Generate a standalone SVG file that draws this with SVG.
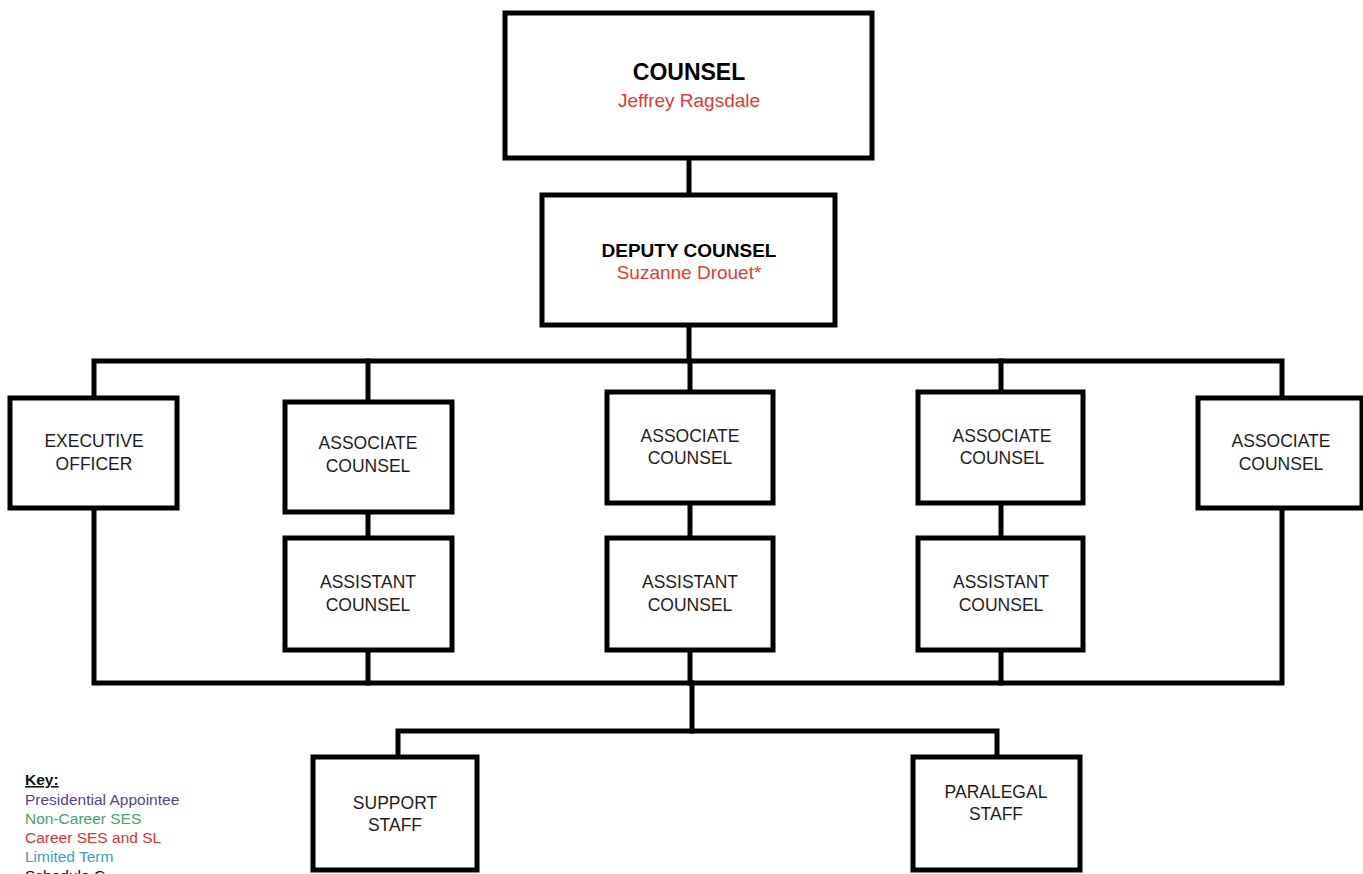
<svg xmlns="http://www.w3.org/2000/svg" width="1363" height="874" viewBox="0 0 1363 874">
  <style>
    .box { fill: #ffffff; stroke: #000000; stroke-width: 5; }
    .wire { fill: none; stroke: #000000; stroke-width: 5; stroke-linejoin: miter; stroke-linecap: square; }
    .lbl { font-family: "Liberation Sans", Arial, sans-serif; font-size: 17.5px; fill: #1e1e1e; text-anchor: middle; }
    .head { font-family: "Liberation Sans", Arial, sans-serif; font-weight: bold; fill: #000000; text-anchor: middle; }
    .name { font-family: "Liberation Sans", Arial, sans-serif; fill: #e23a35; text-anchor: middle; }
    .key { font-family: "Liberation Sans", Arial, sans-serif; font-size: 15.5px; }
  </style>
  <rect width="1363" height="874" fill="#ffffff"/>

  <!-- connectors -->
  <g id="connectors" class="wire">
    <line x1="689" y1="158" x2="689" y2="195"/>
    <line x1="689" y1="325" x2="689" y2="361"/>
    <polyline points="94,398 94,361 1282,361 1282,398"/>
    <line x1="368" y1="361" x2="368" y2="402"/>
    <line x1="690" y1="361" x2="690" y2="392"/>
    <line x1="1001" y1="361" x2="1001" y2="392"/>
    <line x1="368" y1="512" x2="368" y2="538"/>
    <line x1="690" y1="503" x2="690" y2="538"/>
    <line x1="1001" y1="503" x2="1001" y2="538"/>
    <polyline points="94,508 94,683 1282,683 1282,508"/>
    <line x1="368" y1="650" x2="368" y2="683"/>
    <line x1="690" y1="650" x2="690" y2="683"/>
    <line x1="1001" y1="650" x2="1001" y2="683"/>
    <line x1="692" y1="683" x2="692" y2="731"/>
    <polyline points="398,757 398,731 997,731 997,757"/>
  </g>

  <g id="counsel">
    <rect class="box" x="505" y="13" width="367" height="145"/>
    <text class="head" x="689" y="80" font-size="23px">COUNSEL</text>
    <text class="name" x="689" y="107" font-size="19px">Jeffrey Ragsdale</text>
  </g>

  <g id="deputy-counsel">
    <rect class="box" x="542" y="195" width="293" height="130"/>
    <text class="head" x="689" y="257" font-size="19px">DEPUTY COUNSEL</text>
    <text class="name" x="689" y="279" font-size="19px">Suzanne Drouet*</text>
  </g>

  <g id="executive-officer">
    <rect class="box" x="10" y="398" width="167" height="110"/>
    <text class="lbl" x="94" y="447">EXECUTIVE</text>
    <text class="lbl" x="94" y="470">OFFICER</text>
  </g>

  <g id="associate-counsel-1">
    <rect class="box" x="285" y="402" width="167" height="110"/>
    <text class="lbl" x="368" y="449">ASSOCIATE</text>
    <text class="lbl" x="368" y="472">COUNSEL</text>
  </g>

  <g id="associate-counsel-2">
    <rect class="box" x="607" y="392" width="166" height="111"/>
    <text class="lbl" x="690" y="442">ASSOCIATE</text>
    <text class="lbl" x="690" y="464">COUNSEL</text>
  </g>

  <g id="associate-counsel-3">
    <rect class="box" x="918" y="392" width="165" height="111"/>
    <text class="lbl" x="1002" y="442">ASSOCIATE</text>
    <text class="lbl" x="1002" y="464">COUNSEL</text>
  </g>

  <g id="associate-counsel-4">
    <rect class="box" x="1198" y="398" width="164" height="110"/>
    <text class="lbl" x="1281" y="447">ASSOCIATE</text>
    <text class="lbl" x="1281" y="470">COUNSEL</text>
  </g>

  <g id="assistant-counsel-1">
    <rect class="box" x="285" y="538" width="167" height="112"/>
    <text class="lbl" x="368" y="588">ASSISTANT</text>
    <text class="lbl" x="368" y="611">COUNSEL</text>
  </g>

  <g id="assistant-counsel-2">
    <rect class="box" x="607" y="538" width="166" height="112"/>
    <text class="lbl" x="690" y="588">ASSISTANT</text>
    <text class="lbl" x="690" y="611">COUNSEL</text>
  </g>

  <g id="assistant-counsel-3">
    <rect class="box" x="918" y="538" width="165" height="112"/>
    <text class="lbl" x="1001" y="588">ASSISTANT</text>
    <text class="lbl" x="1001" y="611">COUNSEL</text>
  </g>

  <g id="support-staff">
    <rect class="box" x="313" y="757" width="164" height="113"/>
    <text class="lbl" x="395" y="809">SUPPORT</text>
    <text class="lbl" x="395" y="831">STAFF</text>
  </g>

  <g id="paralegal-staff">
    <rect class="box" x="913" y="757" width="167" height="113"/>
    <text class="lbl" x="996" y="798">PARALEGAL</text>
    <text class="lbl" x="996" y="820">STAFF</text>
  </g>

  <!-- legend -->
  <g id="key">
    <text class="key" x="25" y="785" font-weight="bold" fill="#111111" text-decoration="underline">Key:</text>
    <text class="key" x="25" y="805" fill="#5a3f8e">Presidential Appointee</text>
    <text class="key" x="25" y="824" fill="#4aa06e">Non-Career SES</text>
    <text class="key" x="25" y="843" fill="#e0302f">Career SES and SL</text>
    <text class="key" x="25" y="862" fill="#3a9cc8">Limited Term</text>
    <text class="key" x="25" y="881" fill="#111111">Schedule C</text>
  </g>
</svg>
